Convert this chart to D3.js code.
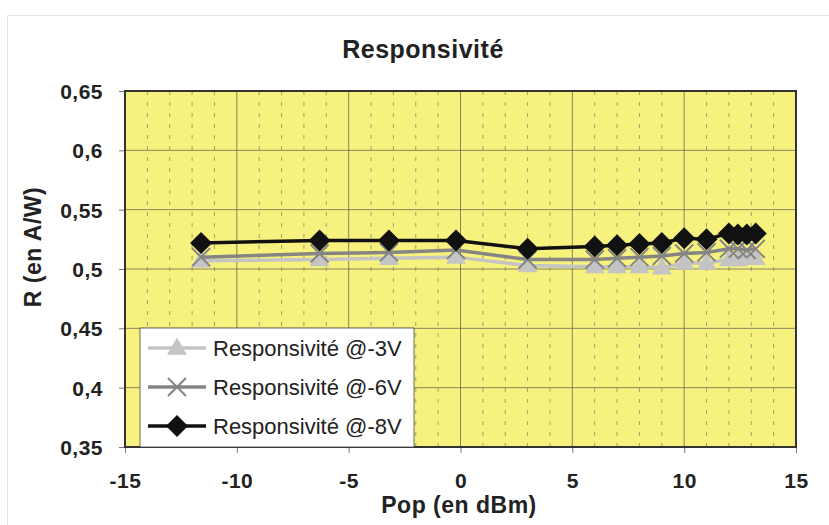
<!DOCTYPE html>
<html>
<head>
<meta charset="utf-8">
<script src="https://cdn.jsdelivr.net/npm/d3@7"></script>
<style>
  body { margin: 0; background: #fff; }
  text { font-family: "Liberation Sans", Arial, sans-serif; }
</style>
</head>
<body>
<svg id="chart" width="829" height="525"></svg>
<script>
const pop = [-11.6, -6.3, -3.2, -0.2, 3.0, 6.0, 7.0, 8.0, 9.0, 10.0, 11.0, 12.0, 12.4, 12.8, 13.2]
const resp3V = [0.507, 0.508, 0.509, 0.510, 0.503, 0.502, 0.502, 0.502, 0.501, 0.505, 0.505, 0.508, 0.508, 0.509, 0.509]
const resp6V = [0.510, 0.513, 0.514, 0.516, 0.508, 0.508, 0.509, 0.510, 0.511, 0.513, 0.514, 0.517, 0.517, 0.516, 0.517]
const resp8V = [0.522, 0.524, 0.524, 0.524, 0.517, 0.519, 0.520, 0.521, 0.522, 0.526, 0.525, 0.530, 0.529, 0.529, 0.530]
const seriesNames = ["Responsivité @-3V", "Responsivité @-6V", "Responsivité @-8V"]
const xTicks = [-15, -10, -5, 0, 5, 10, 15]
const yTicks = [0.35, 0.4, 0.45, 0.5, 0.55, 0.6, 0.65]

const svg = d3.select("#chart")
const width = 829, height = 525
const plot = {left: 125, top: 91, right: 796, bottom: 447}

// outer chart frame
svg.append("rect")
  .attr("x", 7.5).attr("y", 15.5)
  .attr("width", width + 10).attr("height", height)
  .attr("fill", "none")
  .attr("stroke", "#c8c8c8")
  .attr("stroke-dasharray", "1,1")

const x = d3.scaleLinear().domain([-15, 15]).range([plot.left, plot.right])
const y = d3.scaleLinear().domain([0.35, 0.65]).range([plot.bottom, plot.top])

svg.append("rect")
  .attr("x", plot.left).attr("y", plot.top)
  .attr("width", plot.right - plot.left).attr("height", plot.bottom - plot.top)
  .attr("fill", "#f7f27e")

// minor vertical gridlines every unit
const grid = svg.append("g")
grid.selectAll("line.minor")
  .data(d3.range(-14, 15).filter(v => v % 5 !== 0))
  .enter().append("line")
    .attr("class", "minor")
    .attr("x1", d => x(d)).attr("x2", d => x(d))
    .attr("y1", plot.top).attr("y2", plot.bottom)
    .attr("stroke", "#8a8a70")
    .attr("stroke-width", 0.8)
    .attr("stroke-dasharray", "4,7")

grid.selectAll("line.vmajor")
  .data(xTicks.slice(1, -1))
  .enter().append("line")
    .attr("class", "vmajor")
    .attr("x1", d => x(d)).attr("x2", d => x(d))
    .attr("y1", plot.top).attr("y2", plot.bottom)
    .attr("stroke", "#6a6a55")
    .attr("stroke-width", 0.8)

grid.selectAll("line.hmajor")
  .data(yTicks.slice(1, -1))
  .enter().append("line")
    .attr("class", "hmajor")
    .attr("x1", plot.left).attr("x2", plot.right)
    .attr("y1", d => y(d)).attr("y2", d => y(d))
    .attr("stroke", "#6a6a55")
    .attr("stroke-width", 0.8)

// axes
const xAxis = svg.append("g")
  .attr("transform", `translate(0,${plot.bottom})`)
  .call(d3.axisBottom(x).tickValues(xTicks).tickSize(6).tickPadding(20)
    .tickFormat(d => String(d)))
const yAxis = svg.append("g")
  .attr("transform", `translate(${plot.left},0)`)
  .call(d3.axisLeft(y).tickValues(yTicks).tickSize(6).tickPadding(16)
    .tickFormat(d => d3.format(".2~f")(d).replace(".", ",")))

for (const ax of [xAxis, yAxis]) {
  ax.select(".domain").remove()
  ax.selectAll("line").attr("stroke", "#777")
  ax.selectAll("text")
    .attr("fill", "#222")
    .attr("font-size", 21)
    .attr("font-weight", "bold")
    .attr("letter-spacing", 0.5)
}
yAxis.selectAll("text").attr("dy", "0.35em")
xAxis.selectAll("text").attr("dy", "0.71em")

svg.append("rect")
  .attr("x", plot.left).attr("y", plot.top)
  .attr("width", plot.right - plot.left).attr("height", plot.bottom - plot.top)
  .attr("fill", "none")
  .attr("stroke", "#333")
  .attr("stroke-width", 2)

// series
const series = [
  {name: seriesNames[0], values: resp3V, color: "#c4c4c4", marker: "triangle"},
  {name: seriesNames[1], values: resp6V, color: "#858585", marker: "cross"},
  {name: seriesNames[2], values: resp8V, color: "#111111", marker: "diamond"}
]

const line = d3.line()
  .x(d => x(d[0]))
  .y(d => y(d[1]))

function drawMarker(g, kind, color) {
  if (kind === "triangle") {
    g.append("path")
      .attr("d", d3.symbol(d3.symbolTriangle, 170)())
      .attr("transform", "translate(0,1)")
      .attr("fill", color)
  } else if (kind === "cross") {
    g.append("path")
      .attr("d", "M-9,-9L9,9M-9,9L9,-9")
      .attr("stroke", color)
      .attr("stroke-width", 2)
      .attr("fill", "none")
  } else {
    g.append("path")
      .attr("d", "M0,-11L11,0L0,11L-11,0Z")
      .attr("fill", color)
  }
}

series.forEach(s => {
  const pts = pop.map((p, i) => [p, s.values[i]])
  svg.append("path")
    .datum(pts)
    .attr("d", line)
    .attr("fill", "none")
    .attr("stroke", s.color)
    .attr("stroke-width", 3.5)
  svg.append("g").selectAll("g")
    .data(pts)
    .enter().append("g")
      .attr("transform", d => `translate(${x(d[0])},${y(d[1])})`)
      .each(function() { drawMarker(d3.select(this), s.marker, s.color) })
})

// legend
const legend = svg.append("g").attr("transform", "translate(140,328)")
legend.append("rect")
  .attr("width", 274).attr("height", 119)
  .attr("fill", "#fff")
  .attr("stroke", "#444")
  .attr("stroke-width", 0.8)

series.forEach((s, i) => {
  const row = legend.append("g").attr("transform", `translate(0,${20 + i * 39})`)
  row.append("line")
    .attr("x1", 8).attr("x2", 66)
    .attr("stroke", s.color)
    .attr("stroke-width", 3.5)
  drawMarker(row.append("g").attr("transform", "translate(37,0)"), s.marker, s.color)
  row.append("text")
    .attr("x", 73).attr("dy", "0.36em")
    .attr("font-size", 22)
    .attr("fill", "#222")
    .text(s.name)
})

// titles
svg.append("text")
  .attr("x", 423).attr("y", 58)
  .attr("text-anchor", "middle")
  .attr("font-size", 25)
  .attr("font-weight", "bold")
  .attr("letter-spacing", 0.5)
  .attr("fill", "#222")
  .text("Responsivité")

svg.append("text")
  .attr("x", 459).attr("y", 513)
  .attr("text-anchor", "middle")
  .attr("font-size", 23)
  .attr("font-weight", "bold")
  .attr("letter-spacing", 0.5)
  .attr("fill", "#222")
  .text("Pop (en dBm)")

svg.append("text")
  .attr("transform", "translate(41,247) rotate(-90)")
  .attr("text-anchor", "middle")
  .attr("font-size", 23)
  .attr("font-weight", "bold")
  .attr("letter-spacing", 0.5)
  .attr("fill", "#222")
  .text("R (en A/W)")
</script>
</body>
</html>
